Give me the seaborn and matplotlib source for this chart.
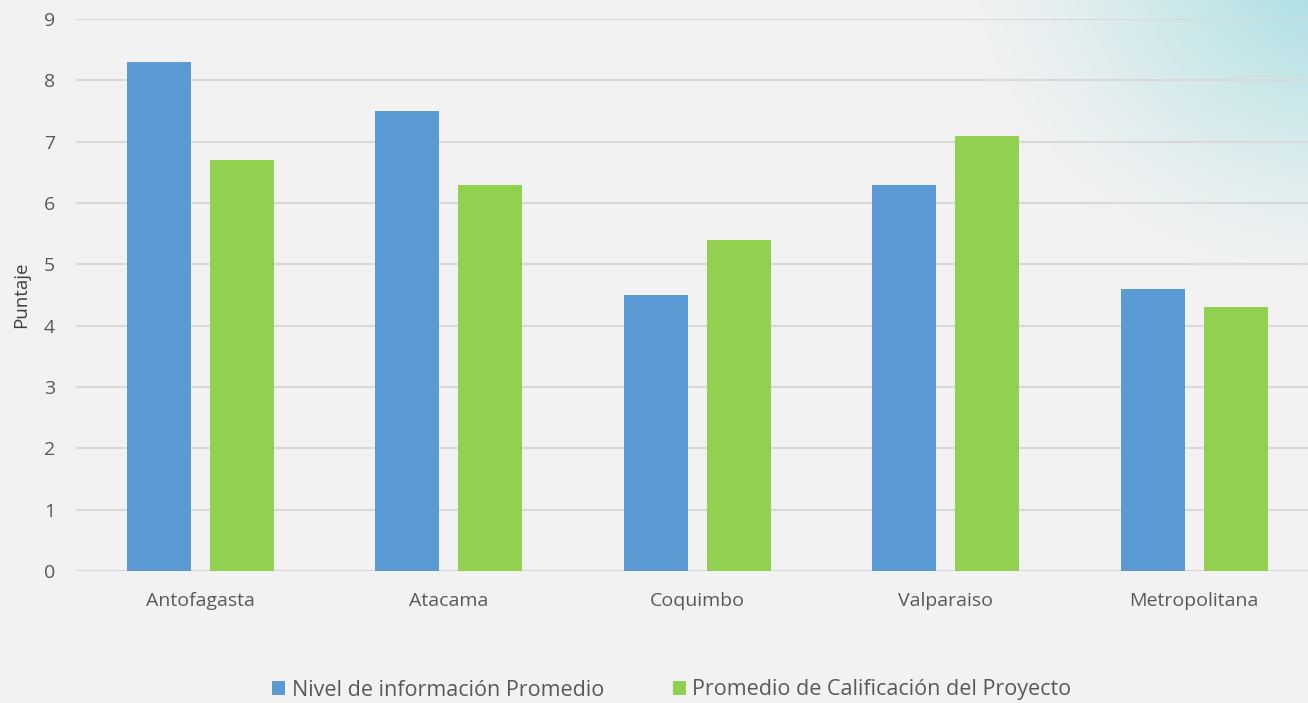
import numpy as np
import pandas as pd
import seaborn as sns
import matplotlib.pyplot as plt

# data
regiones = ["Antofagasta", "Atacama", "Coquimbo", "Valparaiso", "Metropolitana"]
nivel_info = [8.3, 7.5, 4.5, 6.3, 4.6]
calificacion = [6.7, 6.3, 5.4, 7.1, 4.3]
series = ["Nivel de información Promedio", "Promedio de Calificación del Proyecto"]
colores = ["#5b9bd5", "#92d050"]
y_ticks = list(range(0, 10))

df = pd.DataFrame({
    "Region": regiones * 2,
    "Serie": [series[0]] * len(regiones) + [series[1]] * len(regiones),
    "Puntaje": nivel_info + calificacion,
})

sns.set_theme(style="white")
plt.rcParams["font.family"] = ["Open Sans", "DejaVu Sans"]

W, H = 1308, 703
fig = plt.figure(figsize=(W / 100, H / 100), dpi=100)
fig.patch.set_facecolor("#f2f2f2")

# soft teal glow in the top-right corner
bg = fig.add_axes([0, 0, 1, 1], zorder=-10)
yy, xx = np.mgrid[0:H, 0:W]
d = np.sqrt(((xx - 1345) / 390) ** 2 + ((yy + 40) / 330) ** 2)
t = np.clip(1 - d, 0, 1) ** 1.3
base = np.array([242, 242, 242]) / 255
teal = np.array([160, 220, 225]) / 255
img = base + (teal - base) * t[..., None]
bg.imshow(img, extent=[0, 1, 0, 1], aspect="auto", origin="upper")
bg.axis("off")

ax = fig.add_axes([76 / W, 1 - 571 / H, 1242.5 / W, (571 - 19) / H])
ax.patch.set_alpha(0)
sns.barplot(data=df, x="Region", y="Puntaje", hue="Serie", palette=colores,
            saturation=1, width=2 / 3, gap=0.226, linewidth=0, ax=ax)

ax.set_ylim(0, 9)
ax.set_xlim(-0.5, len(regiones) - 0.5)
ax.set_yticks(y_ticks)
ax.yaxis.grid(True, color="#d9d9d9", lw=1.5)
ax.set_axisbelow(True)
for s in ax.spines.values():
    s.set_visible(False)

ax.tick_params(axis="both", length=0, labelcolor="#595959", labelsize=14)
ax.tick_params(axis="y", pad=15)
ax.tick_params(axis="x", pad=15)
ax.set_xlabel("")
ax.set_ylabel("Puntaje", fontsize=13.5, color="#404040")
ax.yaxis.set_label_coords(-0.037, 0.5)

handles, labels = ax.get_legend_handles_labels()
ax.get_legend().remove()
fig.legend(handles, labels, loc="center", bbox_to_anchor=(672 / W, 13 / H),
           ncol=2, frameon=False, fontsize=15.5, labelcolor="#595959",
           handlelength=0.6, handleheight=0.6, handletextpad=0.3,
           columnspacing=3.2)

fig.savefig("out.png", dpi=100, facecolor=fig.get_facecolor())
